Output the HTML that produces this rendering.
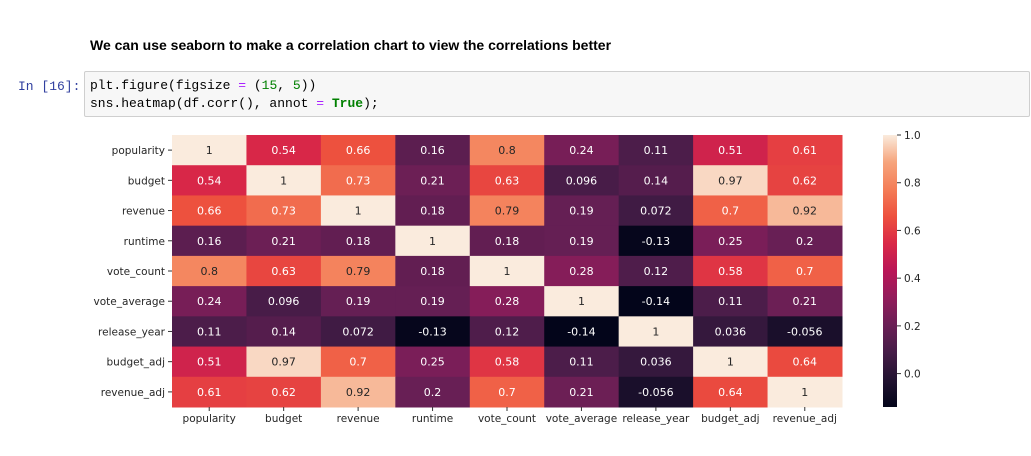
<!DOCTYPE html>
<html><head><meta charset="utf-8"><style>
body{margin:0;width:1031px;height:456px;background:#fff;overflow:hidden;font-family:"Liberation Sans",sans-serif;position:relative}
.title{position:absolute;left:90px;top:37px;font-size:14px;font-weight:bold;color:#000}
.prompt{position:absolute;left:18px;top:79px;font-family:"Liberation Mono",monospace;font-size:13px;color:#303f9f}
.code{position:absolute;left:84px;top:71px;width:946px;height:46px;background:#f7f7f7;border:1px solid #cfcfcf;border-radius:2px;box-sizing:border-box;font-family:"Liberation Mono",monospace;font-size:13px;line-height:18px;padding:5px 5px;color:#000;white-space:pre}
.p{color:#aa22ff}.n{color:#008000}.k{color:#008000;font-weight:bold}
</style></head><body>
<div class="title">We can use seaborn to make a correlation chart to view the correlations better</div>
<div class="prompt">In [16]:</div>
<div class="code">plt.figure(figsize <span class="p">=</span> (<span class="n">15</span>, <span class="n">5</span>))
sns.heatmap(df.corr(), annot <span class="p">=</span> <span class="k">True</span>);</div>
<svg id="chart" width="1031" height="456" style="position:absolute;left:0;top:0"></svg>
<script>
const labels=["popularity","budget","revenue","runtime","vote_count","vote_average","release_year","budget_adj","revenue_adj"];
const row0=[1,0.54,0.66,0.16,0.8,0.24,0.11,0.51,0.61];
const row1=[0.54,1,0.73,0.21,0.63,0.096,0.14,0.97,0.62];
const row2=[0.66,0.73,1,0.18,0.79,0.19,0.072,0.7,0.92];
const row3=[0.16,0.21,0.18,1,0.18,0.19,-0.13,0.25,0.2];
const row4=[0.8,0.63,0.79,0.18,1,0.28,0.12,0.58,0.7];
const row5=[0.24,0.096,0.19,0.19,0.28,1,-0.14,0.11,0.21];
const row6=[0.11,0.14,0.072,-0.13,0.12,-0.14,1,0.036,-0.056];
const row7=[0.51,0.97,0.7,0.25,0.58,0.11,0.036,1,0.64];
const row8=[0.61,0.62,0.92,0.2,0.7,0.21,-0.056,0.64,1];
const matrix=[row0,row1,row2,row3,row4,row5,row6,row7,row8];
const cbTicks=[0.0,0.2,0.4,0.6,0.8,1.0];
const vmin=-0.14,vmax=1;
const NS="http://www.w3.org/2000/svg";
const svg=document.getElementById('chart');
const X0=172,X1=842,Y0=135,Y1=407;
const cw=(X1-X0)/labels.length,ch=(Y1-Y0)/labels.length;
const stops=[[3,5,26],[34,19,49],[69,28,71],[105,31,85],[146,28,91],[185,22,87],[217,40,71],[237,80,62],[244,125,87],[246,164,124],[250,235,221]];
function cmap(v){let t=Math.max(0,Math.min(1,(v-vmin)/(vmax-vmin)))*10;let i=Math.min(9,Math.floor(t)),f=t-i;
const a=stops[i],b=stops[i+1];return a.map((c,k)=>Math.round(c+(b[k]-c)*f));}
function el(tag,attrs,parent){const e=document.createElementNS(NS,tag);for(const k in attrs)e.setAttribute(k,attrs[k]);(parent||svg).appendChild(e);return e;}
function fmt(v){return String(v);}
matrix.forEach((row,r)=>{row.forEach((v,c)=>{
 const col=cmap(v);
 const rect=el('rect',{x:X0+c*cw,y:Y0+r*ch,width:cw+0.5,height:ch+0.5,fill:`rgb(${col})`});
 
 
 const lum=0.299*col[0]+0.587*col[1]+0.114*col[2];
 const t=el('text',{x:X0+(c+0.5)*cw,y:Y0+(r+0.5)*ch+4,'text-anchor':'middle','font-size':'11',fill:lum>150?'#262626':'#fff','font-family':'"DejaVu Sans",sans-serif'});
 t.textContent=fmt(v);
 
 
});});
labels.forEach((l,i)=>{
 const ty=Y0+(i+0.5)*ch;
 el('line',{x1:X0-4,x2:X0,y1:ty,y2:ty,stroke:'#333'});
 const t=el('text',{x:X0-7,y:ty+4,'text-anchor':'end','font-size':'10.5',fill:'#262626','font-family':'"DejaVu Sans",sans-serif'});
 t.textContent=l;
 
 
 const tx=X0+(i+0.5)*cw;
 el('line',{x1:tx,x2:tx,y1:Y1,y2:Y1+4,stroke:'#333'});
 const u=el('text',{x:tx,y:Y1+15,'text-anchor':'middle','font-size':'10.5',fill:'#262626','font-family':'"DejaVu Sans",sans-serif'});
 u.textContent=l;
 
 
});
const CX=883,CW=14;
const defs=el('defs',{});
const g=el('linearGradient',{id:'cb',x1:0,y1:1,x2:0,y2:0},defs);
stops.forEach((s,i)=>el('stop',{offset:i/10,'stop-color':`rgb(${s})`},g));
const cb=el('rect',{x:CX,y:Y0,width:CW,height:Y1-Y0,fill:'url(#cb)'});


function cy(v){return Y1-(v-vmin)/(vmax-vmin)*(Y1-Y0);}
cbTicks.forEach(v=>{
 const y=cy(v);
 el('line',{x1:CX+CW,x2:CX+CW+4,y1:y,y2:y,stroke:'#333'});
 const t=el('text',{x:CX+CW+7,y:y+4,'font-size':'10.5',fill:'#262626','font-family':'"DejaVu Sans",sans-serif'});
 t.textContent=v.toFixed(1);
 
 
});
</script>
</body></html>
